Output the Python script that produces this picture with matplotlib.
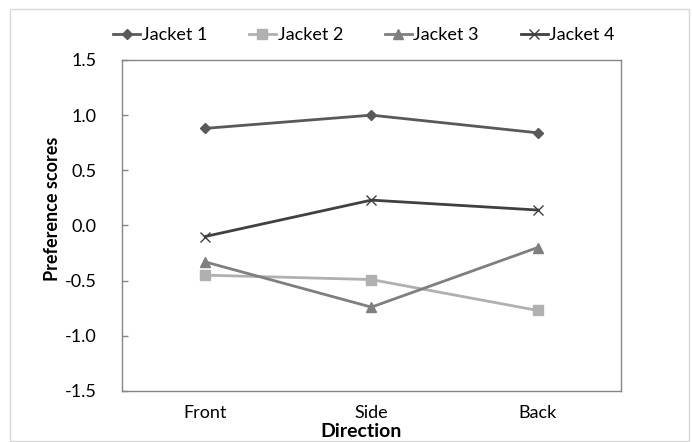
import matplotlib
matplotlib.use("Agg")
import matplotlib.pyplot as plt
from matplotlib.patches import Rectangle

plt.rcParams["font.family"] = ["Lato", "DejaVu Sans"]

directions = ["Front", "Side", "Back"]
jacket1 = [0.88, 1.00, 0.84]
jacket2 = [-0.45, -0.49, -0.77]
jacket3 = [-0.33, -0.74, -0.20]
jacket4 = [-0.10, 0.23, 0.14]
yticks = [-1.5, -1.0, -0.5, 0.0, 0.5, 1.0, 1.5]

fig = plt.figure(figsize=(6.92, 4.42), dpi=100)
ax = fig.add_axes([0.1763, 0.1154, 0.7207, 0.7489])

# chart-area border
fig.patches.append(Rectangle((10 / 692, 1 / 442), 679 / 692, 432 / 442,
                             transform=fig.transFigure, fill=False,
                             edgecolor="#d9d9d9", linewidth=1))

x = range(len(directions))
ax.plot(x, jacket1, color="#595959", lw=2, marker="D", ms=5.5, label="Jacket 1")
ax.plot(x, jacket2, color="#b0b0b0", lw=2, marker="s", ms=7, label="Jacket 2")
ax.plot(x, jacket3, color="#7f7f7f", lw=2, marker="^", ms=7.5, label="Jacket 3")
ax.plot(x, jacket4, color="#404040", lw=2, marker="x", ms=7, mew=1, label="Jacket 4")

ax.set_xlim(-0.5, 2.5)
ax.set_ylim(-1.5, 1.5)
ax.set_yticks(yticks)
ax.set_yticklabels([f"{v:.1f}" for v in yticks], fontsize=13)
ax.set_xticks(list(x))
ax.set_xticklabels(directions, fontsize=13)
ax.tick_params(axis="x", length=0, pad=10)
ax.tick_params(axis="y", direction="in", length=4.5, width=1, color="#868686", pad=18)
for s in ax.spines.values():
    s.set_color("#868686")
    s.set_linewidth(1)

ax.set_xlabel("Direction", fontsize=14, fontweight="bold")
ax.xaxis.set_label_coords(0.48, -0.097)
ax.set_ylabel("Preference scores", fontsize=13, fontweight="bold")
ax.yaxis.set_label_coords(-0.122, 0.55)

ax.legend(loc="center left", bbox_to_anchor=(-0.018, 1.0755), ncol=4, frameon=False,
          fontsize=13, handlelength=1.5, handletextpad=0.1, columnspacing=2.3,
          borderaxespad=0, borderpad=0)

fig.savefig("out.png", dpi=100)
